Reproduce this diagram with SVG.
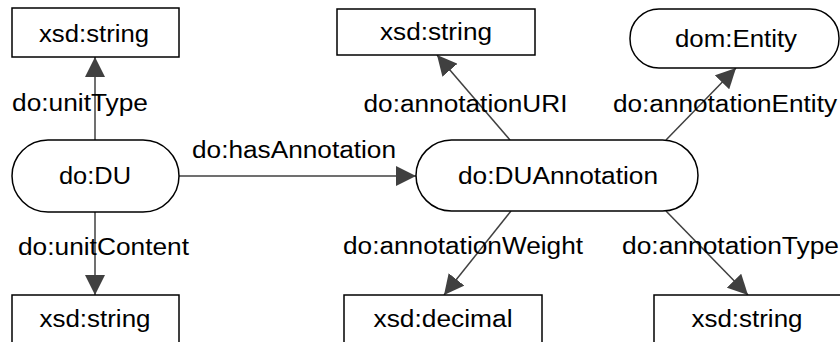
<svg xmlns="http://www.w3.org/2000/svg" width="840" height="342" viewBox="0 0 840 342">
  <style>
    .node { fill: #ffffff; stroke: #000000; stroke-width: 1.5; }
    .label { font-family: "Liberation Sans", Arial, sans-serif; font-size: 23px; fill: #000000; text-anchor: middle; }
    .edge { stroke: #404040; stroke-width: 1.5; fill: none; marker-end: url(#arrow); }
  </style>
  <defs>
    <marker id="arrow" markerUnits="userSpaceOnUse" markerWidth="20" markerHeight="20" refX="20" refY="10" orient="auto">
      <path d="M0,0 L20,10 L0,20 Z" fill="#404040"/>
    </marker>
  </defs>
  <rect width="840" height="342" fill="#ffffff"/>

  <!-- connectors and their property labels -->
  <g id="connectors">
    <line class="edge" x1="95" y1="140" x2="95" y2="57"/>
    <line class="edge" x1="95" y1="212" x2="95" y2="295"/>
    <line class="edge" x1="179" y1="176" x2="416" y2="176"/>
    <line class="edge" x1="510" y1="140" x2="437" y2="55"/>
    <line class="edge" x1="666" y1="140" x2="736" y2="68"/>
    <line class="edge" x1="511" y1="211" x2="444" y2="295"/>
    <line class="edge" x1="666" y1="211" x2="748" y2="295"/>
    <text class="label" x="80" y="111" textLength="136" lengthAdjust="spacingAndGlyphs">do:unitType</text>
    <text class="label" x="103.5" y="255" textLength="171" lengthAdjust="spacingAndGlyphs">do:unitContent</text>
    <text class="label" x="294" y="158" textLength="204" lengthAdjust="spacingAndGlyphs">do:hasAnnotation</text>
    <text class="label" x="465.5" y="112" textLength="204" lengthAdjust="spacingAndGlyphs">do:annotationURI</text>
    <text class="label" x="725" y="112" textLength="224" lengthAdjust="spacingAndGlyphs">do:annotationEntity</text>
    <text class="label" x="463" y="254" textLength="240" lengthAdjust="spacingAndGlyphs">do:annotationWeight</text>
    <text class="label" x="730.5" y="254" textLength="217" lengthAdjust="spacingAndGlyphs">do:annotationType</text>
  </g>

  <!-- nodes -->
  <g id="unitType-string">
    <rect class="node" x="12" y="8" width="167" height="49"/>
    <text class="label" x="94" y="42" textLength="110" lengthAdjust="spacingAndGlyphs">xsd:string</text>
  </g>
  <g id="du">
    <rect class="node" x="12" y="140" width="167" height="72" rx="36" ry="36"/>
    <text class="label" x="95" y="184" textLength="72" lengthAdjust="spacingAndGlyphs">do:DU</text>
  </g>
  <g id="unitContent-string">
    <rect class="node" x="12" y="295" width="167" height="60"/>
    <text class="label" x="95" y="327" textLength="111" lengthAdjust="spacingAndGlyphs">xsd:string</text>
  </g>
  <g id="annotationURI-string">
    <rect class="node" x="337" y="9" width="198" height="46"/>
    <text class="label" x="436" y="40" textLength="112" lengthAdjust="spacingAndGlyphs">xsd:string</text>
  </g>
  <g id="entity">
    <rect class="node" x="630" y="9" width="209" height="59" rx="29" ry="29"/>
    <text class="label" x="736" y="47" textLength="122" lengthAdjust="spacingAndGlyphs">dom:Entity</text>
  </g>
  <g id="du-annotation">
    <rect class="node" x="416" y="140" width="282" height="71" rx="35.5" ry="35.5"/>
    <text class="label" x="558" y="184" textLength="200" lengthAdjust="spacingAndGlyphs">do:DUAnnotation</text>
  </g>
  <g id="annotationWeight-decimal">
    <rect class="node" x="344" y="295" width="198" height="60"/>
    <text class="label" x="443" y="327" textLength="139" lengthAdjust="spacingAndGlyphs">xsd:decimal</text>
  </g>
  <g id="annotationType-string">
    <rect class="node" x="654" y="295" width="200" height="60"/>
    <text class="label" x="747" y="327" textLength="111" lengthAdjust="spacingAndGlyphs">xsd:string</text>
  </g>
</svg>
